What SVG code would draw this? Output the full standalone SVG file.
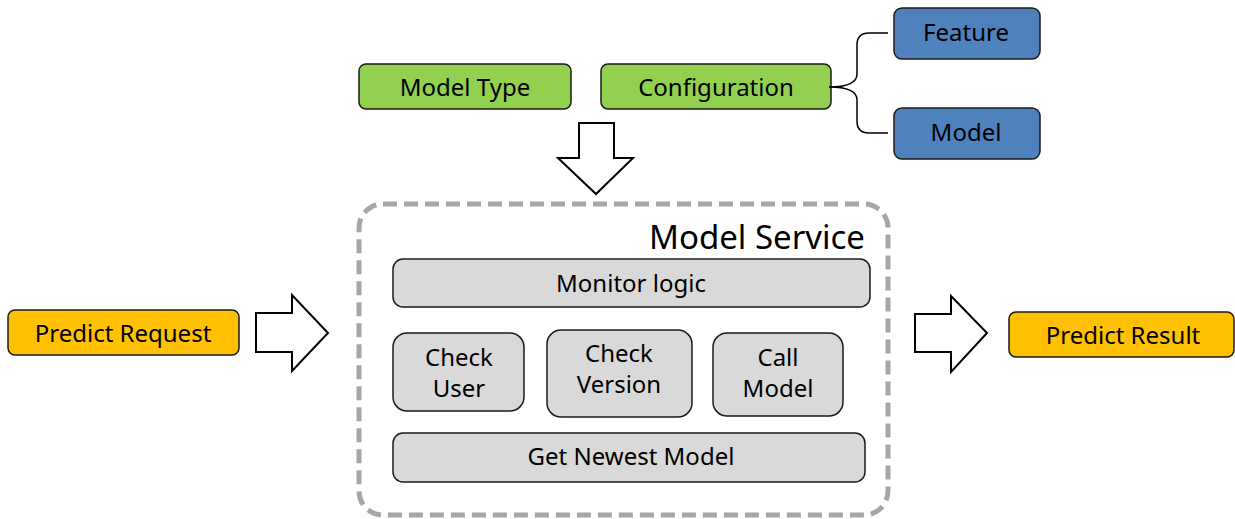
<svg xmlns="http://www.w3.org/2000/svg" width="1235" height="519" viewBox="0 0 1235 519">
<style>
text{font-family:"Noto Sans","Open Sans","Liberation Sans",sans-serif;font-size:24px;fill:#000;text-anchor:middle}
.g{fill:#92d050;stroke:#1a1a1a;stroke-width:1.5}
.b{fill:#4f81bd;stroke:#1a1a1a;stroke-width:1.5}
.y{fill:#ffc000;stroke:#1a1a1a;stroke-width:1.5}
.s{fill:#d9d9d9;stroke:#1a1a1a;stroke-width:1.5}
.arr{fill:#fff;stroke:#000;stroke-width:2;stroke-linejoin:miter}
.brace{fill:none;stroke:#000;stroke-width:1.5}
</style>
<rect width="1235" height="519" fill="#fff"/>
<g id="model-service">
<rect x="359" y="204" width="529" height="311" rx="24" fill="none" stroke="#a6a6a6" stroke-width="5" stroke-dasharray="14 7"/>
<text x="865" y="249" style="font-size:33px;text-anchor:end">Model Service</text>
</g>
<g id="model-type"><rect class="g" x="359" y="64" width="212" height="45" rx="7"/><text x="465" y="96">Model Type</text></g>
<g id="configuration"><rect class="g" x="601" y="64" width="230" height="45" rx="7"/><text x="716" y="96">Configuration</text></g>
<g id="feature"><rect class="b" x="894" y="8" width="146" height="51" rx="8"/><text x="966" y="41">Feature</text></g>
<g id="model"><rect class="b" x="894" y="108" width="146" height="51" rx="8"/><text x="966" y="141">Model</text></g>
<g id="predict-request"><rect class="y" x="8" y="310" width="231" height="45" rx="7"/><text x="123" y="342">Predict Request</text></g>
<g id="predict-result"><rect class="y" x="1009" y="312" width="225" height="45" rx="7"/><text x="1123" y="344">Predict Result</text></g>
<g id="monitor-logic"><rect class="s" x="393" y="259" width="477" height="48" rx="10"/><text x="631" y="292">Monitor logic</text></g>
<g id="check-user"><rect class="s" x="393" y="333" width="131" height="78" rx="14"/><text x="459" y="366">Check</text><text x="459" y="397">User</text></g>
<g id="check-version"><rect class="s" x="547" y="330" width="145" height="87" rx="14"/><text x="619" y="362">Check</text><text x="619" y="393">Version</text></g>
<g id="call-model"><rect class="s" x="713" y="333" width="130" height="83" rx="14"/><text x="778" y="366">Call</text><text x="778" y="397">Model</text></g>
<g id="get-newest-model"><rect class="s" x="393" y="433" width="472" height="49" rx="10"/><text x="631" y="465">Get Newest Model</text></g>
<g id="connectors">
<path class="brace" d="M829,87 C846,87 857,84 857,74 L857,45 Q857,33 869,33 L888,33 M829,87 C846,87 857,90 857,100 L857,121 Q857,133 869,133 L888,133"/>
<polygon class="arr" points="579,123 614,123 614,158 633,158 596,194 558,158 579,158"/>
<polygon class="arr" points="256,313 292,313 292,295 328,333 292,371 292,352 256,352"/>
<polygon class="arr" points="915,314 951,314 951,296 987,333 951,372 951,352 915,352"/>
</g>
</svg>
